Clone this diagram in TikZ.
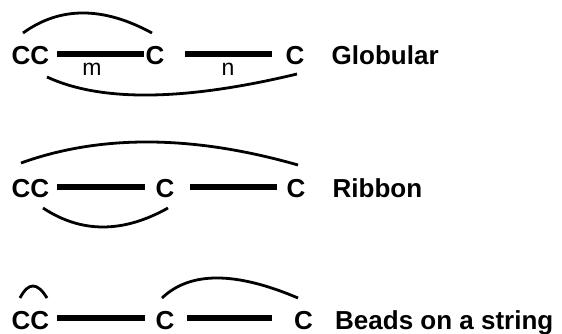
\documentclass[tikz,border=0pt]{standalone}
\usepackage{fontspec}
\setmainfont{Liberation Sans}
\begin{document}
\begin{tikzpicture}[x=1pt,y=-1pt,
  lbl/.style={inner sep=0pt,anchor=base west,font=\fontsize{26}{30}\selectfont\bfseries},
  sub/.style={inner sep=0pt,anchor=base,font=\fontsize{23}{27}\selectfont},
  bar/.style={line width=6.5pt},
  loop/.style={line width=2.8pt}]
\path[use as bounding box,fill=white] (0,0) rectangle (562,333);

% --- Globular ---
\node[lbl] (g0) at (11.5,64.5) {CC};
\node[lbl] (g1) at (145.5,64.5) {C};
\node[lbl] (g2) at (285.5,64.5) {C};
\node[lbl] (gt) at (331.5,64.5) {Globular};
\node[sub] (gm) at (92,75) {m};
\node[sub] (gn) at (228,75) {n};
\coordinate (gb0) at (57,54);  \coordinate (gb1) at (144,54);
\coordinate (gb2) at (185,54); \coordinate (gb3) at (272,54);
\draw[bar] (gb0) -- (gb1);
\draw[bar] (gb2) -- (gb3);
\coordinate (ga0) at (23,33);  \coordinate (ga1) at (152,33);
\coordinate (ga2) at (47,77);  \coordinate (ga3) at (297,74);
\draw[loop] (ga0) .. controls (60,6.3) and (103,6.3) .. (ga1);
\draw[loop] (ga2) .. controls (101,102) and (184.3,101) .. (ga3);

% --- Ribbon ---
\node[lbl] (r0) at (11.5,197) {CC};
\node[lbl] (r1) at (155.5,197) {C};
\node[lbl] (r2) at (286.5,197) {C};
\node[lbl] (rt) at (332.5,197) {Ribbon};
\coordinate (rb0) at (57,187);  \coordinate (rb1) at (145,187);
\coordinate (rb2) at (190,187); \coordinate (rb3) at (277,187);
\draw[bar] (rb0) -- (rb1);
\draw[bar] (rb2) -- (rb3);
\coordinate (ra0) at (21,163); \coordinate (ra1) at (298,165);
\coordinate (ra2) at (43,208); \coordinate (ra3) at (168,208);
\draw[loop] (ra0) .. controls (100.7,134.3) and (193,135) .. (ra1);
\draw[loop] (ra2) .. controls (81.3,233.3) and (123,233.3) .. (ra3);

% --- Beads on a string ---
\node[lbl] (b0) at (11.5,329.5) {CC};
\node[lbl] (b1) at (155.5,329.5) {C};
\node[lbl] (b2) at (294,329.5) {C};
\node[lbl] (bt) at (335,329.5) {Beads on a string};
\coordinate (bb0) at (57,318);  \coordinate (bb1) at (145,318);
\coordinate (bb2) at (187,318); \coordinate (bb3) at (272,318);
\draw[bar] (bb0) -- (bb1);
\draw[bar] (bb2) -- (bb3);
\coordinate (ba0) at (20,298);  \coordinate (ba1) at (47,298);
\coordinate (ba2) at (162,298); \coordinate (ba3) at (298,298);
\draw[loop] (ba0) .. controls (28.3,282) and (37.3,282) .. (ba1);
\draw[loop] (ba2) .. controls (190,271.3) and (235.3,271.3) .. (ba3);
\end{tikzpicture}
\end{document}
